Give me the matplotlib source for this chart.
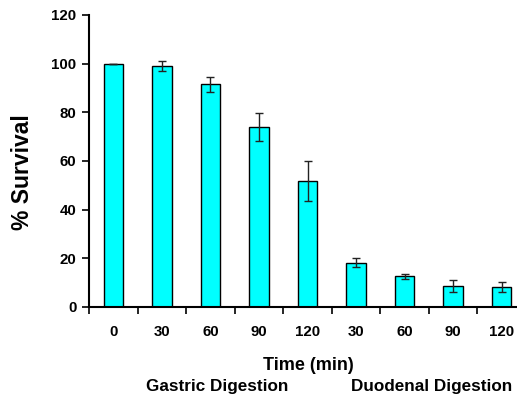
import matplotlib
matplotlib.use('Agg')
import matplotlib.pyplot as plt
import numpy as np

labels = ['0', '30', '60', '90', '120', '30', '60', '90', '120']
survival = [100.0, 99.0, 91.5, 74.0, 51.8, 18.2, 12.6, 8.7, 8.3]
err = [0.0, 2.0, 3.0, 5.6, 8.3, 1.8, 1.0, 2.6, 2.0]

plt.rcParams['font.family'] = ['Liberation Sans', 'DejaVu Sans']
plt.rcParams['font.weight'] = 'bold'

fig = plt.figure(figsize=(5.17, 3.99), dpi=100)
ax = fig.add_axes([89/517, 92/399, 437/517, 292/399])

x = np.arange(len(labels))
ax.bar(x, survival, width=0.4, color='#00FFFF', edgecolor='black', linewidth=1, zorder=2)
ax.errorbar(x, survival, yerr=err, fmt='none', ecolor='#222222', elinewidth=1,
            capsize=3, capthick=1, zorder=3)

ax.set_xlim(-0.5, 8.5)
ax.set_ylim(0, 120)
ax.set_yticks(range(0, 121, 20))
ax.set_yticklabels([str(v) for v in range(0, 121, 20)], fontsize=10.8, fontweight='bold')
ax.set_xticks(np.arange(-0.5, 9, 1))
ax.set_xticklabels([])
ax.set_xticks(x, minor=True)
ax.set_xticklabels(labels, minor=True, fontsize=10.8, fontweight='bold')
ax.tick_params(axis='x', which='minor', length=0, pad=13)
ax.tick_params(axis='x', which='major', direction='out', length=5, width=1.2)
ax.tick_params(axis='y', direction='out', length=5, width=1.2, pad=4)

for s in ['top', 'right']:
    ax.spines[s].set_visible(False)
for s in ['left', 'bottom']:
    ax.spines[s].set_linewidth(1.5)

fig.text(23/517, 1 - 172/399, '% Survival', rotation=90, ha='center', va='center',
         fontsize=16.5, fontweight='bold')
fig.text(308/517, 1 - 365/399, 'Time (min)', ha='center', va='center',
         fontsize=13, fontweight='bold')
fig.text(217/517, 1 - 387/399, 'Gastric Digestion', ha='center', va='center',
         fontsize=12.3, fontweight='bold')
fig.text(432/517, 1 - 387/399, 'Duodenal Digestion', ha='center', va='center',
         fontsize=12.3, fontweight='bold')

fig.savefig('out.png', dpi=100)
